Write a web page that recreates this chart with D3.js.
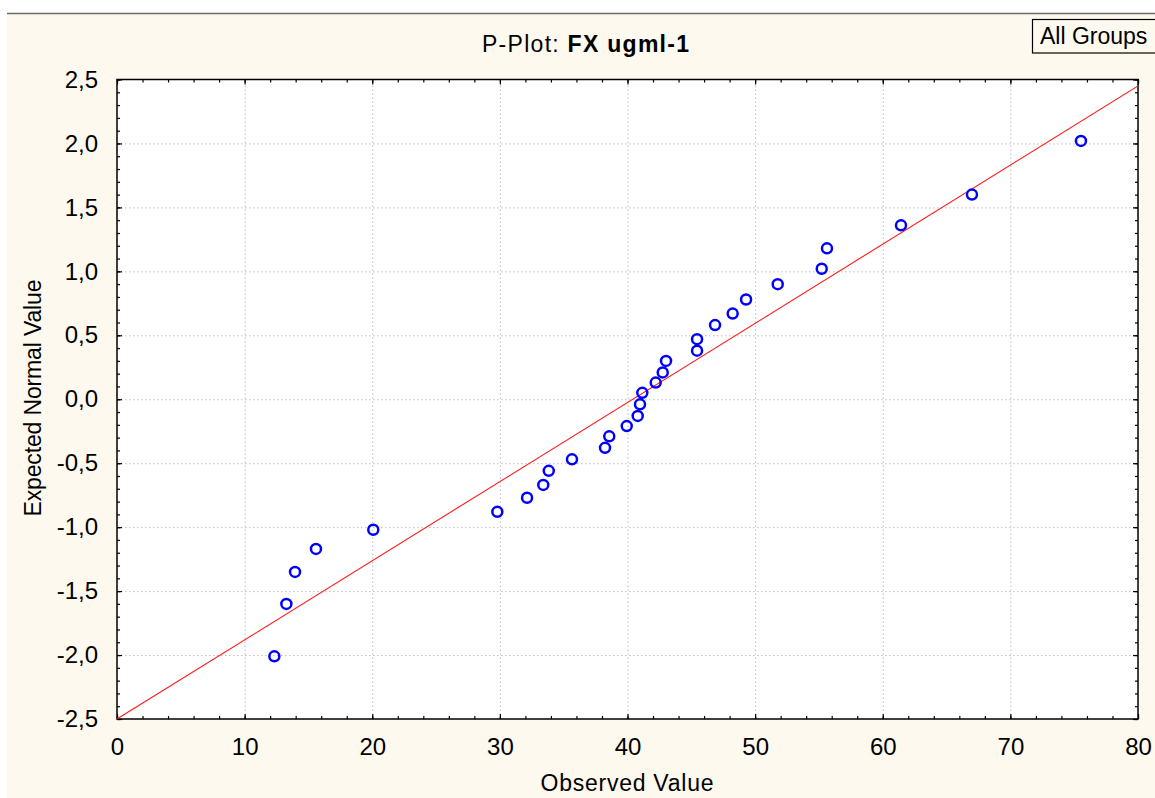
<!DOCTYPE html>
<head>
<meta charset="utf-8">
<style>
body { margin: 0; background: #fff; }
svg { display: block; font-family: "Liberation Sans", Arial, sans-serif; }
.grid line { stroke: #bdbdbd; stroke-dasharray: 1.5,2.5; }
.grid path { display: none; }
.ax path { display: none; }
.ax line { stroke: #000; stroke-width: 1.2; }
.ax text { font-size: 24px; fill: #000; }
</style>
</head>
<body>
<svg width="1155" height="798"></svg>
<script src="https://cdn.jsdelivr.net/npm/d3@7"></script>
<script>
var observed = [12.33, 13.27, 13.95, 15.59, 20.08, 29.80, 32.13, 33.40, 33.83, 35.65,
                38.24, 38.57, 39.94, 40.80, 40.98, 41.16, 42.21, 42.76, 43.02, 45.45,
                45.45, 46.86, 48.24, 49.29, 51.77, 55.22, 55.63, 61.43, 66.99, 75.53];
var expected = [-2.01, -1.60, -1.35, -1.17, -1.02, -0.88, -0.77, -0.67, -0.56, -0.47,
                -0.38, -0.29, -0.21, -0.13, -0.04, 0.05, 0.13, 0.21, 0.30, 0.38,
                0.47, 0.58, 0.67, 0.78, 0.90, 1.02, 1.18, 1.36, 1.60, 2.02];
// fitted line end points
var lineX = [0, 80];
var lineY = [-2.5, 2.45];
var xTicks = [0, 10, 20, 30, 40, 50, 60, 70, 80];
var yTicks = [-2.5, -2.0, -1.5, -1.0, -0.5, 0.0, 0.5, 1.0, 1.5, 2.0, 2.5];

var svg = d3.select("svg");
var L = 117, T = 79.5, R = 1138, B = 719;

// cream background and top rule
svg.append("rect").attr("x", 7).attr("y", 13).attr("width", 1148).attr("height", 785).attr("fill", "#fef9ee");
svg.append("line").attr("x1", 7).attr("x2", 1155).attr("y1", 13.5).attr("y2", 13.5)
  .attr("stroke", "#6a6a6a").attr("stroke-width", 1.5);

var x = d3.scaleLinear().domain([0, 80]).range([L, R]);
var y = d3.scaleLinear().domain([-2.5, 2.5]).range([B, T]);

svg.append("rect").attr("x", L).attr("y", T).attr("width", R - L).attr("height", B - T).attr("fill", "#fff");

// grid
svg.append("g").attr("class", "grid").attr("transform", "translate(0," + B + ")")
  .call(d3.axisBottom(x).tickValues(xTicks.slice(1, -1)).tickSize(-(B - T)).tickFormat(""));
svg.append("g").attr("class", "grid").attr("transform", "translate(" + L + ",0)")
  .call(d3.axisLeft(y).tickValues(yTicks.slice(1, -1)).tickSize(-(R - L)).tickFormat(""));

var fmt = function(d) { return d3.format(".1f")(d).replace(".", ",").replace("−", "-"); };
var xMinor = d3.range(0, 80.01, 2);
var yMinor = d3.range(-25, 25.1, 1).map(function(d) { return d / 10; });

// minor ticks on all four sides (inward)
svg.append("g").attr("class", "ax").attr("transform", "translate(0," + B + ")")
  .call(d3.axisBottom(x).tickValues(xMinor).tickSize(-3).tickFormat(""));
svg.append("g").attr("class", "ax").attr("transform", "translate(0," + T + ")")
  .call(d3.axisTop(x).tickValues(xMinor).tickSize(-3).tickFormat(""));
svg.append("g").attr("class", "ax").attr("transform", "translate(" + L + ",0)")
  .call(d3.axisLeft(y).tickValues(yMinor).tickSize(-3).tickFormat(""));
svg.append("g").attr("class", "ax").attr("transform", "translate(" + R + ",0)")
  .call(d3.axisRight(y).tickValues(yMinor).tickSize(-3).tickFormat(""));

// major ticks with labels
svg.append("g").attr("class", "ax").attr("transform", "translate(0," + B + ")")
  .call(d3.axisBottom(x).tickValues(xTicks).tickSize(-5).tickPadding(19));
svg.append("g").attr("class", "ax").attr("transform", "translate(0," + T + ")")
  .call(d3.axisTop(x).tickValues(xTicks).tickSize(-5).tickFormat(""));
svg.append("g").attr("class", "ax").attr("transform", "translate(" + L + ",0)")
  .call(d3.axisLeft(y).tickValues(yTicks).tickSize(-5).tickPadding(19).tickFormat(fmt));
svg.append("g").attr("class", "ax").attr("transform", "translate(" + R + ",0)")
  .call(d3.axisRight(y).tickValues(yTicks).tickSize(-5).tickFormat(""));

svg.append("rect").attr("x", L).attr("y", T).attr("width", R - L).attr("height", B - T)
  .attr("fill", "none").attr("stroke", "#000").attr("stroke-width", 1.5);

// fitted line
var clip = svg.append("clipPath").attr("id", "clip").append("rect")
  .attr("x", L).attr("y", T).attr("width", R - L).attr("height", B - T);
svg.append("line").attr("clip-path", "url(#clip)")
  .attr("x1", x(lineX[0])).attr("y1", y(lineY[0]))
  .attr("x2", x(lineX[1])).attr("y2", y(lineY[1]))
  .attr("stroke", "#ff1a1a").attr("stroke-width", 1.1);

// points
svg.append("g").selectAll("circle").data(observed).enter().append("circle")
  .attr("cx", function(d) { return x(d); })
  .attr("cy", function(d, i) { return y(expected[i]); })
  .attr("r", 5)
  .attr("fill", "none").attr("stroke", "#0000ff").attr("stroke-width", 2.5);

// titles
var title = svg.append("text").attr("x", 585.5).attr("y", 52).attr("text-anchor", "middle")
  .attr("font-size", 23).attr("textLength", 207);
title.append("tspan").text("P-Plot: ");
title.append("tspan").attr("font-weight", "bold").text("FX ugml-1");

svg.append("text").attr("x", 627).attr("y", 791).attr("text-anchor", "middle")
  .attr("font-size", 23).attr("textLength", 173).text("Observed Value");
svg.append("text").attr("transform", "translate(40.5,398) rotate(-90)").attr("text-anchor", "middle")
  .attr("font-size", 23).attr("textLength", 237).text("Expected Normal Value");

// legend box
svg.append("rect").attr("x", 1032.5).attr("y", 19.5).attr("width", 140).attr("height", 33.5)
  .attr("fill", "none").attr("stroke", "#000").attr("stroke-width", 1.2);
svg.append("text").attr("x", 1040).attr("y", 43.5).attr("font-size", 23).text("All Groups");
</script>
</body>
